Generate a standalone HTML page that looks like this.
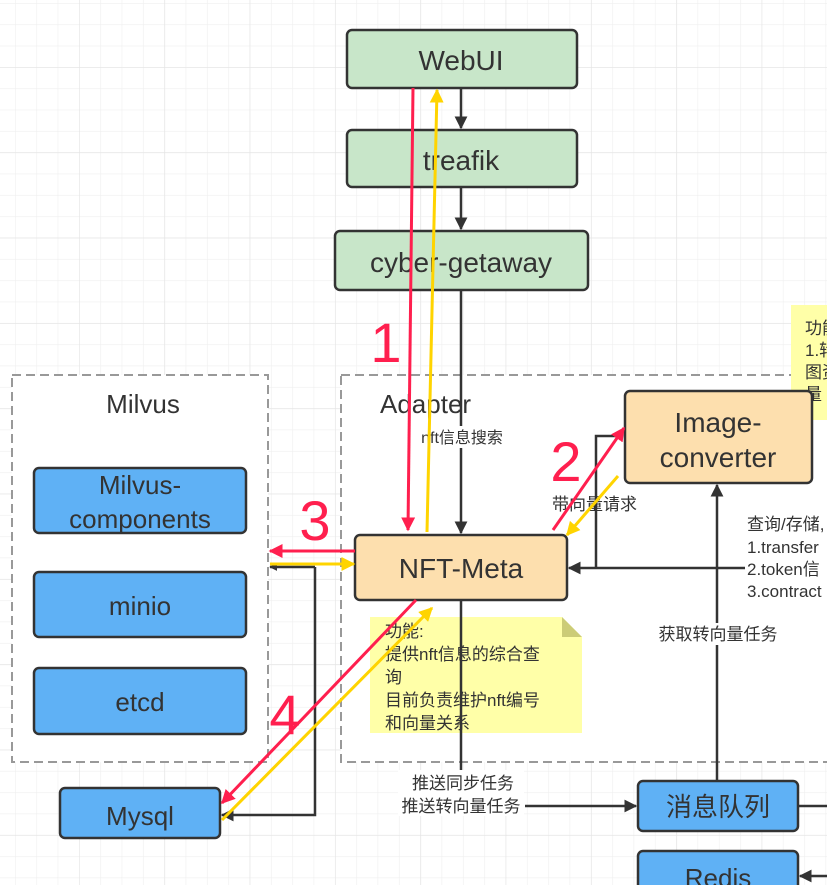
<!DOCTYPE html>
<html><head><meta charset="utf-8"><style>
html,body{margin:0;padding:0;background:#fff;}
svg{display:block;font-family:"Liberation Sans","Noto Sans CJK SC",sans-serif;}
</style></head><body>
<svg width="827" height="885" viewBox="0 0 827 885" xmlns="http://www.w3.org/2000/svg">
<defs>
<pattern id="g" x="15" y="3" width="21.33" height="21.33" patternUnits="userSpaceOnUse">
<path d="M0 0V21.33M0 0H21.33" stroke="#efefef" stroke-width="1.2" fill="none"/>
</pattern>
<pattern id="G" x="79" y="67" width="85.33" height="85.33" patternUnits="userSpaceOnUse">
<path d="M0 0V85.33M0 0H85.33" stroke="#e4e4e4" stroke-width="1.2" fill="none"/>
</pattern>
<marker id="ak" viewBox="0 0 10 10" refX="9" refY="5" markerWidth="8" markerHeight="8" orient="auto" markerUnits="userSpaceOnUse"><path d="M0 0L10 5L0 10z" fill="#333"/></marker>
<marker id="ak2" viewBox="0 0 10 10" refX="9" refY="5" markerWidth="13" markerHeight="13" orient="auto" markerUnits="userSpaceOnUse"><path d="M0 0L10 5L0 10z" fill="#333"/></marker>
<marker id="ar" viewBox="0 0 10 10" refX="9" refY="5" markerWidth="14" markerHeight="14" orient="auto" markerUnits="userSpaceOnUse"><path d="M0 0L10 5L0 10z" fill="#ff1f4e"/></marker>
<marker id="ay" viewBox="0 0 10 10" refX="9" refY="5" markerWidth="14" markerHeight="14" orient="auto" markerUnits="userSpaceOnUse"><path d="M0 0L10 5L0 10z" fill="#ffd400"/></marker>
</defs>
<rect width="827" height="885" fill="url(#g)"/>
<rect width="827" height="885" fill="url(#G)"/>

<!-- containers -->
<rect x="12" y="375" width="256" height="387" fill="#fff" stroke="#999" stroke-width="2" stroke-dasharray="9,5"/>
<rect x="341" y="375" width="500" height="387" fill="#fff" stroke="#999" stroke-width="2" stroke-dasharray="9,5"/>
<text x="143" y="413" font-size="26" fill="#333" text-anchor="middle">Milvus</text>
<text x="380" y="413" font-size="26" fill="#333">Adapter</text>

<!-- top boxes -->
<g stroke="#333" stroke-width="2.5" fill="#c8e6c9">
<rect x="347" y="30" width="230" height="58" rx="5"/>
<rect x="347" y="130" width="230" height="57" rx="5"/>
<rect x="335" y="231" width="253" height="59" rx="5"/>
</g>
<g font-size="28" fill="#333" text-anchor="middle">
<text x="461" y="70">WebUI</text>
<text x="461" y="170">treafik</text>
<text x="461" y="272">cyber-getaway</text>
</g>
<line x1="461" y1="88" x2="461" y2="128" stroke="#333" stroke-width="2.5" marker-end="url(#ak2)"/>
<line x1="461" y1="187" x2="461" y2="229" stroke="#333" stroke-width="2.5" marker-end="url(#ak2)"/>
<line x1="461" y1="290" x2="461" y2="533" stroke="#333" stroke-width="2.5" marker-end="url(#ak2)"/>

<!-- notes -->
<rect x="791" y="305" width="40" height="115" fill="#ffffa8"/>
<g font-size="17" fill="#333">
<text x="805" y="334">功能</text><text x="805" y="356">1.转</text><text x="805" y="378">图资</text><text x="805" y="400">量</text>
</g>
<path d="M370 617H562L582 637V733H370z" fill="#ffffa8"/>
<path d="M562 617L582 637H562z" fill="#cccc77"/>
<g font-size="17" fill="#333">
<text x="385" y="637">功能:</text>
<text x="385" y="660">提供nft信息的综合查</text>
<text x="385" y="683">询</text>
<text x="385" y="706">目前负责维护nft编号</text>
<text x="385" y="729">和向量关系</text>
</g>

<!-- milvus boxes -->
<g stroke="#333" stroke-width="2.5" fill="#5fb1f5">
<rect x="34" y="468" width="212" height="65" rx="5"/>
<rect x="34" y="572" width="212" height="65" rx="5"/>
<rect x="34" y="668" width="212" height="66" rx="5"/>
<rect x="60" y="788" width="160" height="50" rx="5"/>
<rect x="638" y="781" width="160" height="50" rx="5"/>
<rect x="638" y="851" width="160" height="50" rx="5"/>
</g>
<g font-size="26" fill="#333" text-anchor="middle">
<text x="140" y="494">Milvus-</text>
<text x="140" y="528">components</text>
<text x="140" y="615">minio</text>
<text x="140" y="711">etcd</text>
<text x="140" y="825">Mysql</text>
<text x="718" y="816">消息队列</text>
<text x="718" y="887">Redis</text>
</g>

<!-- orange boxes -->
<g stroke="#333" stroke-width="2.5" fill="#fddfae">
<rect x="355" y="535" width="212" height="65" rx="5"/>
<rect x="625" y="391" width="187" height="92" rx="5"/>
</g>
<g font-size="28" fill="#333" text-anchor="middle">
<text x="461" y="578">NFT-Meta</text>
<text x="718" y="432">Image-</text>
<text x="718" y="467">converter</text>
</g>

<!-- dark connectors -->
<g stroke="#333" stroke-width="2.5" fill="none">
<polyline points="827,568 569,568" marker-end="url(#ak2)"/>
<polyline points="596,568 596,436 623,436"/>
<line x1="717" y1="781" x2="717" y2="485" marker-end="url(#ak2)"/>
<polyline points="315,567 315,815 222,815" marker-end="url(#ak2)"/>
<line x1="315" y1="567" x2="270" y2="567" marker-end="url(#ak)"/>
<polyline points="461,600 461,770"/>
<line x1="525" y1="806" x2="636" y2="806" marker-end="url(#ak2)"/>
<line x1="798" y1="806" x2="827" y2="806"/>
<line x1="827" y1="876" x2="800" y2="876" marker-end="url(#ak2)"/>
</g>

<!-- labels -->
<rect x="412" y="426" width="100" height="22" fill="#fff"/>
<text x="462" y="443" font-size="16" fill="#333" text-anchor="middle">nft信息搜索</text>
<text x="552" y="510" font-size="17" fill="#333">带向量请求</text>
<rect x="652" y="623" width="132" height="22" fill="#fff"/>
<text x="718" y="640" font-size="17" fill="#333" text-anchor="middle">获取转向量任务</text>
<rect x="745" y="513" width="82" height="88" fill="#fff"/>
<g font-size="17" fill="#333">
<text x="747" y="530">查询/存储,</text>
<text x="747" y="553">1.transfer</text>
<text x="747" y="575">2.token信</text>
<text x="747" y="597">3.contract</text>
</g>
<rect x="398" y="770" width="126" height="46" fill="#fff"/>
<g font-size="17" fill="#333" text-anchor="middle">
<text x="463" y="789">推送同步任务</text>
<text x="461" y="812">推送转向量任务</text>
</g>

<!-- colored arrows -->
<g stroke-width="3" fill="none">
<line x1="413" y1="88" x2="408" y2="530" stroke="#ff1f4e" marker-end="url(#ar)"/>
<line x1="427" y1="532" x2="437" y2="90" stroke="#ffd400" marker-end="url(#ay)"/>
<line x1="553" y1="530" x2="624" y2="428" stroke="#ff1f4e" marker-end="url(#ar)"/>
<line x1="618" y1="476" x2="567" y2="535" stroke="#ffd400" marker-end="url(#ay)"/>
<line x1="355" y1="551" x2="270" y2="551" stroke="#ff1f4e" marker-end="url(#ar)"/>
<line x1="270" y1="564" x2="354" y2="564" stroke="#ffd400" marker-end="url(#ay)"/>
<line x1="416" y1="600" x2="222" y2="803" stroke="#ff1f4e" marker-end="url(#ar)"/>
<line x1="222" y1="820" x2="432" y2="608" stroke="#ffd400" marker-end="url(#ay)"/>
</g>
<g font-size="56" fill="#ff1f4e" text-anchor="middle">
<text x="386" y="362">1</text>
<text x="566" y="481">2</text>
<text x="315" y="540">3</text>
<text x="285" y="734">4</text>
</g>
</svg>
</body></html>
